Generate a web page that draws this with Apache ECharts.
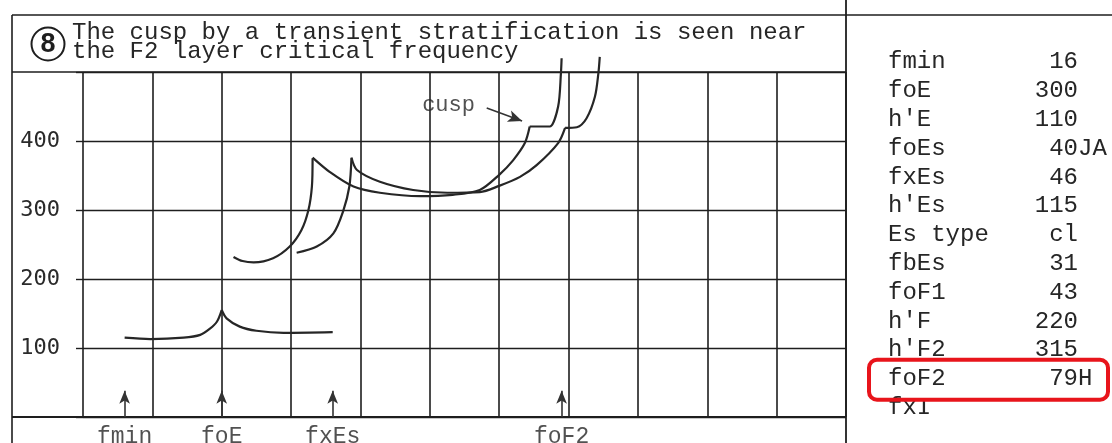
<!DOCTYPE html>
<html>
<head>
<meta charset="utf-8">
<script src="https://cdn.jsdelivr.net/npm/echarts@6/dist/echarts.min.js"></script>
<style>
  html, body { margin: 0; padding: 0; background: #fff; }
  #chart { width: 1112px; height: 443px; }
</style>
</head>
<body>
<div id="chart"></div>
<script>
// Ionogram traces, [frequency (MHz), virtual height (km)]
const eTrace = [[1.6,115],[1.97,113],[2.45,115],[2.69,119],[2.83,128],[2.93,138],[3.0,155]];
const esTrace = [[3.0,155],[3.07,143],[3.26,131],[3.5,125],[3.89,122],[4.6,123]];
const oF1Trace = [[3.17,232],[3.3,226],[3.46,224],[3.74,230],[3.98,247],[4.15,271],[4.25,300],[4.30,334],[4.31,375]];
const oF2Trace = [[4.31,376],[4.56,355],[4.90,334],[5.28,325],[5.86,320],[6.33,322],[6.72,329],[7.0,351],[7.2,372],[7.37,397],[7.44,421]];
const oTopTrace = [[7.44,421],[7.63,421],[7.73,421],[7.85,450],[7.89,498],[7.9,520]];
const xF1Trace = [[4.08,238],[4.37,247],[4.61,266],[4.75,298],[4.84,334],[4.87,375]];
const xF2Trace = [[4.87,376],[4.95,358],[5.28,341],[5.76,329],[6.25,325],[6.72,326],[7.0,335],[7.3,348],[7.54,365],[7.85,397],[7.95,419]];
const xTopTrace = [[7.95,419],[8.12,420],[8.26,433],[8.38,464],[8.43,498],[8.45,522]];

// Axis ticks and scaled-parameter markers
const yTicks = [100, 200, 300, 400];
const markerNames = ['fmin', 'foE', 'fxEs', 'foF2'];
const markerFreqs = [1.6, 3.0, 4.6, 7.9];

// Cusp annotation
const cuspText = 'cusp';
const cuspTextPos = [6.27, 452];
const cuspArrow = [[6.82, 448], [7.33, 429]];

// Scaled parameter table
const tableLabels = ['fmin', 'foE', "h'E", 'foEs', 'fxEs', "h'Es", 'Es type', 'fbEs', 'foF1', "h'F", "h'F2", 'foF2', 'fxI'];
const tableValues = ['16', '300', '110', '40JA', '46', '115', 'cl', '31', '43', '220', '315', '79H', ''];
const highlightRow = 'foF2';

const titleLines = ['The cusp by a transient stratification is seen near', 'the F2 layer critical frequency'];
const panelNumber = '8';

const INK = '#1e1e1e';
const TEXT = '#262626';
const MONO = "'Liberation Mono', 'DejaVu Sans Mono', monospace";

const chart = echarts.init(document.getElementById('chart'), null, { renderer: 'canvas' });

function trace(data) {
  return {
    type: 'line', data: data, showSymbol: false, symbol: 'none', clip: false,
    smooth: 0.3, silent: true, z: 5,
    lineStyle: { color: '#262626', width: 2.2 }
  };
}

// Table text laid out on a monospace grid
const ROW0 = 62, ROWSTEP = 28.8, LABEL_X = 888, VALUE_RIGHT = 1078, CH = 14.4;
const tableGraphics = [];
tableLabels.forEach(function (lab, i) {
  const y = ROW0 + i * ROWSTEP;
  tableGraphics.push({ type: 'text', style: { text: lab, x: LABEL_X, y: y, font: '24px ' + MONO, fill: TEXT, align: 'left', verticalAlign: 'middle' } });
  const v = tableValues[i];
  if (v) {
    const m = v.match(/^(\d+)(\D*)$/);
    const suffix = m ? m[2].length : 0;
    tableGraphics.push({ type: 'text', style: { text: v, x: VALUE_RIGHT + suffix * CH, y: y, font: '24px ' + MONO, fill: TEXT, align: 'right', verticalAlign: 'middle' } });
  }
});
const hi = tableLabels.indexOf(highlightRow);
tableGraphics.push({
  type: 'rect', shape: { x: 869, y: ROW0 + hi * ROWSTEP - 19, width: 239, height: 40, r: 8 },
  style: { fill: 'none', stroke: '#e8141b', lineWidth: 4 }
});

const frame = [
  { type: 'line', shape: { x1: 12, y1: 15, x2: 1112, y2: 15 }, style: { stroke: INK, lineWidth: 1.6 } },
  { type: 'line', shape: { x1: 12, y1: 15, x2: 12, y2: 443 }, style: { stroke: INK, lineWidth: 1.6 } },
  { type: 'line', shape: { x1: 846, y1: 0, x2: 846, y2: 443 }, style: { stroke: INK, lineWidth: 1.8 } },
  { type: 'line', shape: { x1: 12, y1: 72, x2: 846, y2: 72 }, style: { stroke: INK, lineWidth: 1.6 } },
  { type: 'line', shape: { x1: 12, y1: 417, x2: 846, y2: 417 }, style: { stroke: INK, lineWidth: 1.8 } },
  { type: 'circle', shape: { cx: 48, cy: 44, r: 16.5 }, style: { fill: 'none', stroke: INK, lineWidth: 2 } },
  { type: 'text', style: { text: panelNumber, x: 48, y: 45, font: 'bold 27px "Liberation Sans", Arial, sans-serif', fill: INK, align: 'center', verticalAlign: 'middle' } },
  { type: 'text', style: { text: titleLines[0], x: 72, y: 33, font: '24px ' + MONO, fill: TEXT, align: 'left', verticalAlign: 'middle' } },
  { type: 'text', style: { text: titleLines[1], x: 72, y: 52, font: '24px ' + MONO, fill: TEXT, align: 'left', verticalAlign: 'middle' } }
];

const option = {
  backgroundColor: '#fff',
  animation: false,
  grid: { left: 83, right: 266, top: 72, bottom: 26, containLabel: false },
  xAxis: {
    type: 'value', min: 1, max: 12, interval: 1,
    axisLine: { show: false }, axisTick: { show: false }, axisLabel: { show: false },
    splitLine: { show: true, lineStyle: { color: INK, width: 1.6 } }
  },
  yAxis: {
    type: 'value', min: 0, max: 500, interval: 100,
    axisLine: { show: false },
    axisTick: { show: true, length: 7, lineStyle: { color: INK, width: 1.4 } },
    axisLabel: {
      margin: 23, fontFamily: "'DejaVu Sans Mono', monospace", fontSize: 22, color: '#2a2a2a',
      formatter: function (v) { return yTicks.indexOf(v) >= 0 ? String(v) : ''; }
    },
    splitLine: { show: true, lineStyle: { color: INK, width: 1.4 } }
  },
  series: [
    trace(eTrace), trace(esTrace),
    trace(oF1Trace), trace(oF2Trace), trace(oTopTrace),
    trace(xF1Trace), trace(xF2Trace), trace(xTopTrace),
    {
      // arrows marking the scaled frequencies along the bottom
      type: 'line', data: [], silent: true,
      markLine: {
        silent: true, symbol: ['none', 'arrow'], symbolSize: [8, 13], animation: false,
        lineStyle: { color: '#333', width: 1.6, type: 'solid' },
        label: { show: false },
        data: markerFreqs.map(function (f) { return [{ coord: [f, 0] }, { coord: [f, 38] }]; })
      }
    },
    {
      // parameter names under the frame
      type: 'scatter', silent: true, clip: false, symbolSize: 1,
      itemStyle: { color: 'rgba(0,0,0,0)' },
      data: markerNames.map(function (n, i) { return { name: n, value: [markerFreqs[i], -29] }; }),
      label: { show: true, position: 'inside', formatter: '{b}', fontFamily: MONO, fontSize: 23, color: TEXT }
    },
    {
      // cusp annotation
      type: 'scatter', silent: true, clip: false, symbolSize: 1,
      itemStyle: { color: 'rgba(0,0,0,0)' },
      data: [{ name: cuspText, value: cuspTextPos }],
      label: { show: true, position: 'inside', formatter: '{b}', fontFamily: MONO, fontSize: 22, color: TEXT },
      markLine: {
        silent: true, symbol: ['none', 'arrow'], symbolSize: [9, 14], animation: false,
        lineStyle: { color: '#333', width: 1.6, type: 'solid' },
        label: { show: false },
        data: [[{ coord: cuspArrow[0] }, { coord: cuspArrow[1] }]]
      }
    }
  ],
  graphic: frame.concat(tableGraphics)
};

chart.setOption(option);
</script>
</body>
</html>
